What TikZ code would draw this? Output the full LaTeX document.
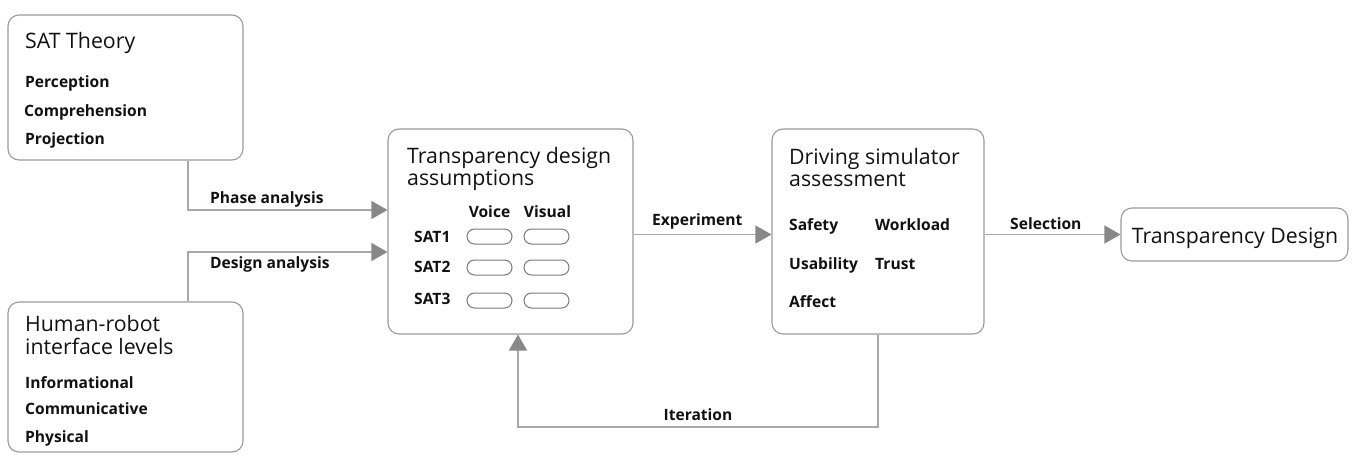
\documentclass[tikz,border=0pt]{standalone}
\usepackage{fontspec}
\setmainfont{Open Sans}
\usetikzlibrary{arrows.meta}
\definecolor{edgegray}{HTML}{9A9A9A}
\definecolor{linegray}{HTML}{A8A8A8}
\definecolor{tipgray}{HTML}{888888}
\definecolor{ink}{HTML}{111111}
\tikzset{
  box/.style={draw=edgegray, line width=1.1pt, rounded corners=11pt, inner sep=0pt},
  pill/.style={draw=edgegray!80!black, line width=1pt, rounded corners=7.5pt,
    minimum width=45pt, minimum height=15pt, inner sep=0pt},
  title/.style={anchor=base west, inner sep=0pt, text=ink,
    font=\fontsize{21.3}{25}\selectfont},
  item/.style={anchor=base west, inner sep=0pt, text=ink,
    font=\bfseries\fontsize{15.6}{18}\selectfont},
  conn/.style={draw=linegray, line width=1.3pt,
    -{Triangle[length=16pt,width=18pt,color=tipgray]}},
}
\begin{document}
\begin{tikzpicture}[x=1pt, y=-1pt]
\useasboundingbox (0,0) rectangle (1352,455);

% boxes
\node[box, minimum width=235pt, minimum height=145pt] (sat) at (125.5,87.5) {};
\node[box, minimum width=235pt, minimum height=150pt] (hri) at (125.5,377) {};
\node[box, minimum width=245pt, minimum height=205pt] (tda) at (510.5,231.5) {};
\node[box, minimum width=212pt, minimum height=205pt] (dsa) at (878,231.5) {};
\node[box, minimum width=227pt, minimum height=53pt] (td) at (1234.5,234.5) {};

% SAT theory
\node[title] (satT) at (25,48) {SAT Theory};
\node[item] (sat1) at (25,87) {Perception};
\node[item] (sat2) at (24,116) {Comprehension};
\node[item] (sat3) at (25,144) {Projection};

% human-robot interface levels
\node[title] (hriT1) at (25,331) {Human-robot};
\node[title] (hriT2) at (25,354) {interface levels};
\node[item] (hri1) at (25,388) {Informational};
\node[item] (hri2) at (25,414) {Communicative};
\node[item] (hri3) at (25,442) {Physical};

% transparency design assumptions
\node[title] (tdaT1) at (407,163) {Transparency design};
\node[title] (tdaT2) at (407,185) {assumptions};
\node[item, anchor=base] (voice) at (489.5,217) {Voice};
\node[item, anchor=base] (visual) at (547.5,217) {Visual};
\node[item] (s1) at (414,242) {SAT1};
\node[item] (s2) at (414,272) {SAT2};
\node[item] (s3) at (414,304) {SAT3};
\node[pill] (p11) at (489.5,236.5) {};
\node[pill] (p12) at (546.5,236.5) {};
\node[pill] (p21) at (489.5,267.5) {};
\node[pill] (p22) at (546.5,267.5) {};
\node[pill] (p31) at (489.5,300.5) {};
\node[pill] (p32) at (546.5,300.5) {};

% driving simulator assessment
\node[title] (dsaT1) at (789,164) {Driving simulator};
\node[title] (dsaT2) at (789,186) {assessment};
\node[item] (m1) at (789,230) {Safety};
\node[item] (m2) at (875,230) {Workload};
\node[item] (m3) at (789,269) {Usability};
\node[item] (m4) at (875,269) {Trust};
\node[item] (m5) at (789,307) {Affect};

% final design
\node[title, anchor=base] (tdT) at (1235,243) {Transparency Design};

% connector labels
\node[item] (lphase) at (210,203) {Phase analysis};
\node[item] (ldesign) at (210,268) {Design analysis};
\node[item] (lexp) at (652,225) {Experiment};
\node[item] (lsel) at (1010,229) {Selection};
\node[item, anchor=base] (liter) at (698,420) {Iteration};

% connectors
\coordinate (phx) at (188,210);
\coordinate (dsx) at (188,252);
\coordinate (exy) at (0,234.5);
\coordinate (itc) at (518,427);
\draw[conn] (sat.south -| phx) |- (tda.west |- phx);
\draw[conn] (hri.north -| dsx) |- (tda.west |- dsx);
\draw[conn] (tda.east |- exy) -- (dsa.west |- exy);
\draw[conn] (dsa.east |- td.west) -- (td.west);
\draw[conn] (dsa.south) |- (itc) -- (tda.south -| itc);
\end{tikzpicture}
\end{document}
